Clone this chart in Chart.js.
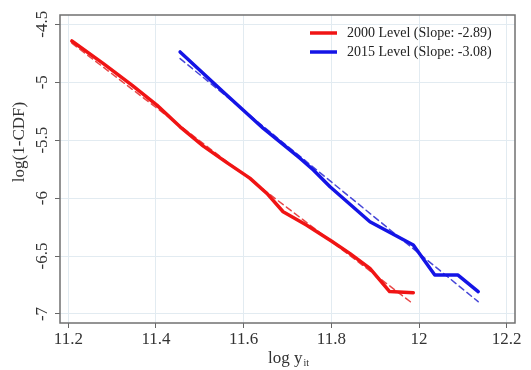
<!DOCTYPE html>
<html>
<head>
<meta charset="utf-8">
<script src="https://cdn.jsdelivr.net/npm/chart.js@4"></script>
<style>
  html, body { margin: 0; padding: 0; background: #fff; }
  #wrap { width: 531px; height: 370px; position: relative; }
</style>
</head>
<body>
<div id="wrap"><canvas id="cdfChart"></canvas></div>
<script>
// log y vs log(1-CDF), two years
const x2000 = [11.208, 11.28, 11.345, 11.402, 11.455, 11.508, 11.56, 11.614, 11.653, 11.69, 11.743, 11.80, 11.842, 11.888, 11.933, 11.987];
const y2000 = [-4.644, -4.84, -5.026, -5.198, -5.385, -5.552, -5.69, -5.828, -5.96, -6.118, -6.233, -6.37, -6.477, -6.606, -6.807, -6.816];
const x2015 = [11.455, 11.553, 11.645, 11.729, 11.759, 11.797, 11.888, 11.987, 12.036, 12.089, 12.135];
const y2015 = [-4.739, -5.083, -5.399, -5.658, -5.758, -5.902, -6.204, -6.405, -6.664, -6.664, -6.808];

// fitted lines (end points)
const fitX2000 = [11.208, 11.987];
const fitY2000 = [-4.663, -6.914];
const fitX2015 = [11.455, 12.135];
const fitY2015 = [-4.796, -6.894];

const seriesNames = ['2000 Level (Slope: -2.89)', '2015 Level (Slope: -3.08)'];
const xTicks = [11.2, 11.4, 11.6, 11.8, 12, 12.2];
const yTicks = [-4.5, -5, -5.5, -6, -6.5, -7];

const RED = '#f01414';
const BLUE = '#1414e6';
const SERIF = "'Liberation Serif', 'DejaVu Serif', serif";

function pts(xs, ys) {
    return xs.map((x, i) => ({ x: x, y: ys[i] }));
}

// frame, rotated y labels, axis titles and legend
const decorPlugin = {
    id: 'decor',
    afterDraw(chart) {
        const ctx = chart.ctx;
        const a = chart.chartArea;
        const ys = chart.scales.y;
        ctx.save();

        ctx.strokeStyle = '#707070';
        ctx.lineWidth = 1.5;
        ctx.strokeRect(a.left, a.top, a.right - a.left, a.bottom - a.top);

        ctx.fillStyle = '#333';
        ctx.font = '17px ' + SERIF;
        ctx.textAlign = 'center';
        ctx.textBaseline = 'middle';
        yTicks.forEach(v => {
            const py = ys.getPixelForValue(v);
            ctx.save();
            ctx.translate(43, py);
            ctx.rotate(-Math.PI / 2);
            ctx.fillText(String(v), 0, 0);
            ctx.restore();
        });

        // y title
        ctx.save();
        ctx.translate(20, 142);
        ctx.rotate(-Math.PI / 2);
        ctx.fillText('log(1-CDF)', 0, 0);
        ctx.restore();

        // x title with subscript
        ctx.font = '17px ' + SERIF;
        const main = 'log y';
        const wMain = ctx.measureText(main).width;
        ctx.font = '10px ' + SERIF;
        const wSub = ctx.measureText('it').width;
        const startX = 288 - (wMain + wSub) / 2;
        ctx.textAlign = 'left';
        ctx.font = '17px ' + SERIF;
        ctx.fillText(main, startX, 359);
        ctx.font = '10px ' + SERIF;
        ctx.fillText('it', startX + wMain + 1, 363);

        // legend
        const colors = [RED, BLUE];
        ctx.font = '14px ' + SERIF;
        seriesNames.forEach((name, i) => {
            const ly = 33 + i * 19;
            ctx.strokeStyle = colors[i];
            ctx.lineWidth = 3.5;
            ctx.beginPath();
            ctx.moveTo(310, ly);
            ctx.lineTo(337, ly);
            ctx.stroke();
            ctx.fillStyle = '#222';
            ctx.textBaseline = 'middle';
            ctx.fillText(name, 347, ly);
        });
        ctx.restore();
    }
};

new Chart(document.getElementById('cdfChart'), {
    type: 'line',
    data: {
        datasets: [
            { data: pts(fitX2000, fitY2000), borderColor: '#e84848', borderWidth: 1.5, borderDash: [6, 4], order: 2 },
            { data: pts(fitX2015, fitY2015), borderColor: '#4848d8', borderWidth: 1.5, borderDash: [6, 4], order: 2 },
            { label: seriesNames[0], data: pts(x2000, y2000), borderColor: RED, borderWidth: 3.5, order: 1 },
            { label: seriesNames[1], data: pts(x2015, y2015), borderColor: BLUE, borderWidth: 3.5, order: 1 }
        ]
    },
    options: {
        responsive: true,
        maintainAspectRatio: false,
        animation: false,
        parsing: true,
        elements: { point: { radius: 0 }, line: { tension: 0, borderCapStyle: 'round', borderJoinStyle: 'round' } },
        layout: { padding: { top: 15, right: 16, left: 0, bottom: 0 } },
        plugins: { legend: { display: false }, tooltip: { enabled: false } },
        scales: {
            x: {
                type: 'linear',
                min: 11.181,
                max: 12.219,
                afterBuildTicks: s => { s.ticks = xTicks.map(v => ({ value: v })); },
                afterFit: s => { s.height = 47; },
                grid: { color: '#e2ebf1', lineWidth: 1, tickLength: 5, tickColor: '#666' },
                border: { display: false },
                ticks: {
                    padding: 1,
                    color: '#333',
                    font: { family: SERIF, size: 17 },
                    maxRotation: 0,
                    callback: v => String(+v.toFixed(1))
                }
            },
            y: {
                type: 'linear',
                min: -7.078,
                max: -4.42,
                afterBuildTicks: s => { s.ticks = yTicks.map(v => ({ value: v })); },
                afterFit: s => { s.width = 60; },
                grid: { color: '#e2ebf1', lineWidth: 1, tickLength: 5, tickColor: '#666' },
                border: { display: false },
                ticks: { display: false }
            }
        }
    },
    plugins: [decorPlugin]
});
</script>
</body>
</html>
